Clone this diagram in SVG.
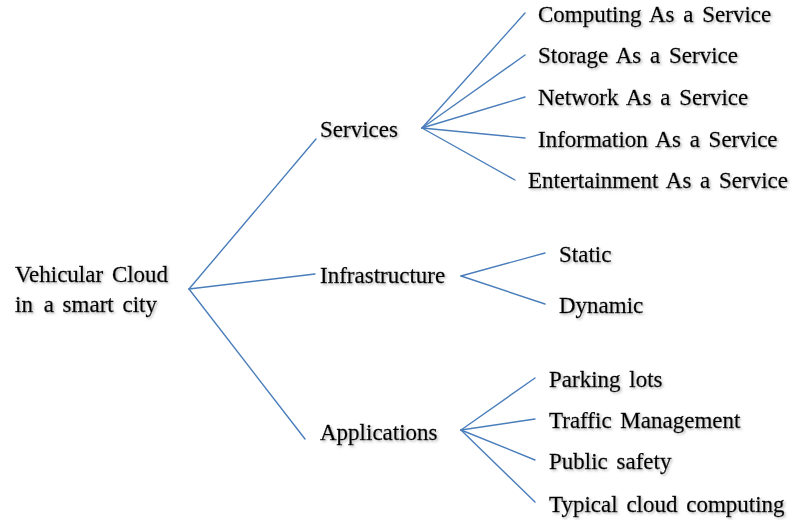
<svg xmlns="http://www.w3.org/2000/svg" width="791" height="520" viewBox="0 0 791 520">
  <defs>
    <filter id="shadow" x="-5%" y="-20%" width="110%" height="150%">
      <feDropShadow dx="1.5" dy="1.5" stdDeviation="0.8" flood-color="#808080" flood-opacity="0.55"/>
    </filter>
  </defs>
  <style>
    text { font-family: "Liberation Serif", "Times New Roman", serif; font-size: 23px; fill: #000; stroke: #000; stroke-width: 0.3; word-spacing: 3px; filter: url(#shadow); }
    .edge { stroke: #4a7ebb; stroke-width: 1.4; fill: none; stroke-linecap: round; }
  </style>
  <rect width="791" height="520" fill="#fff"/>

  <g id="connectors">
    <!-- root to branches -->
    <line class="edge" x1="189" y1="289" x2="316" y2="139"/>
    <line class="edge" x1="189" y1="289" x2="315" y2="274"/>
    <line class="edge" x1="189" y1="289" x2="305" y2="439"/>
    <!-- services -->
    <line class="edge" x1="422" y1="128" x2="525" y2="13"/>
    <line class="edge" x1="422" y1="128" x2="525" y2="55"/>
    <line class="edge" x1="422" y1="128" x2="525" y2="97"/>
    <line class="edge" x1="422" y1="128" x2="525" y2="138"/>
    <line class="edge" x1="422" y1="128" x2="515" y2="180"/>
    <!-- infrastructure -->
    <line class="edge" x1="461" y1="276" x2="545" y2="253"/>
    <line class="edge" x1="461" y1="276" x2="545" y2="304"/>
    <!-- applications -->
    <line class="edge" x1="461" y1="430" x2="535" y2="378"/>
    <line class="edge" x1="461" y1="430" x2="535" y2="419"/>
    <line class="edge" x1="461" y1="430" x2="535" y2="460"/>
    <line class="edge" x1="461" y1="430" x2="535" y2="502"/>
  </g>

  <g id="root">
    <text x="15" y="282">Vehicular Cloud</text>
    <text x="15" y="312">in <tspan dx="2">a smart city</tspan></text>
  </g>

  <g id="services"><text x="320" y="137">Services</text></g>
  <g id="infrastructure"><text x="320" y="283">Infrastructure</text></g>
  <g id="applications"><text x="320" y="440">Applications</text></g>

  <g id="computing"><text x="538" y="22">Computing As a Service</text></g>
  <g id="storage"><text x="538" y="63">Storage As a Service</text></g>
  <g id="network"><text x="538" y="105">Network As a Service</text></g>
  <g id="information"><text x="538" y="147">Information As a Service</text></g>
  <g id="entertainment"><text x="528" y="188">Entertainment As a Service</text></g>

  <g id="static"><text x="559" y="262">Static</text></g>
  <g id="dynamic"><text x="559" y="313">Dynamic</text></g>

  <g id="parking"><text x="549" y="387">Parking lots</text></g>
  <g id="traffic"><text x="549" y="428">Traffic Management</text></g>
  <g id="safety"><text x="549" y="469">Public safety</text></g>
  <g id="cloud"><text x="549" y="512">Typical cloud computing</text></g>
</svg>
